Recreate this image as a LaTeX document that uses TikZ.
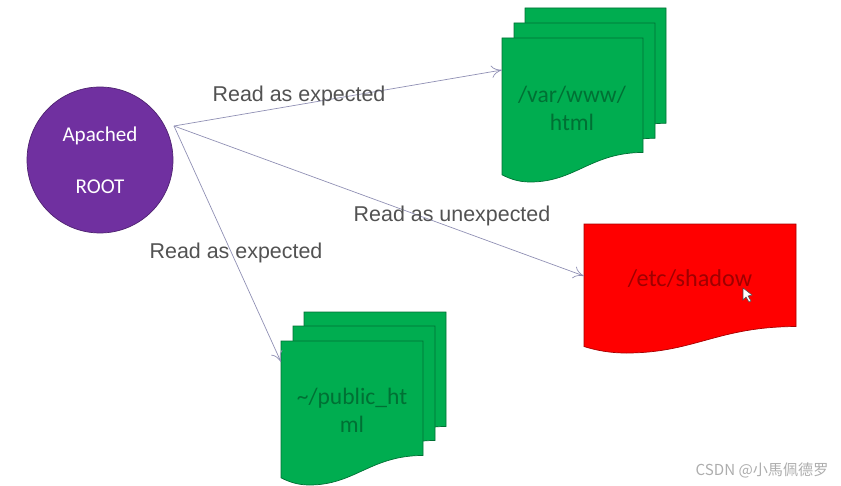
\documentclass[tikz,border=0pt]{standalone}
\usepackage{fontspec}
\setmainfont{Carlito}
\newfontfamily\labelfont{Liberation Sans}
\newfontfamily\cjkfont{Noto Sans CJK SC}
\definecolor{pagegreen}{HTML}{00AD50}
\definecolor{pagered}{HTML}{FF0000}
\definecolor{rootpurple}{HTML}{7030A0}
\definecolor{arrowgray}{HTML}{9090B4}
\tikzstyle{process}=[circle, draw=rootpurple!70!black, fill=rootpurple, minimum size=2.92cm, text=white, align=center, font=\fontsize{12}{14}\selectfont, inner sep=0pt]
\tikzstyle{page text}=[align=center, font=\fontsize{13.4}{16}\selectfont, inner sep=0pt]
\tikzstyle{edge label}=[font=\labelfont\fontsize{12.2}{15}\selectfont, text=black!68, inner sep=0pt]
\tikzstyle{access}=[->, draw=arrowgray, thin, >={To[open,length=6pt,width=7pt]}]
\usetikzlibrary{arrows.meta}
\newcommand{\wavepage}[5]{%
  \begin{scope}[shift={(#1,#2)}, xscale=#3, yscale=#4]
    \filldraw[draw=#5!65!black, fill=#5, line width=0.4pt] (0,0) -- (1,0) -- (1,0.795)
      .. controls (0.63,0.795) and (0.52,1) .. (0.2,1)
      .. controls (0.12,1) and (0.06,0.98) .. (0,0.95) -- cycle;
  \end{scope}}
\begin{document}
\begin{tikzpicture}[x=0.02cm, y=-0.02cm]
      \useasboundingbox (0,0) rectangle (841,486);

      \wavepage{525}{8}{141}{145}{pagegreen}
      \wavepage{514}{23}{141}{145}{pagegreen}
      \wavepage{502}{38}{141}{144}{pagegreen}

      \wavepage{304}{312}{142}{144}{pagegreen}
      \wavepage{293}{326}{142}{144}{pagegreen}
      \wavepage{281}{341}{142}{144}{pagegreen}

      \wavepage{584}{224}{212}{129}{pagered}

      \node[process] (root) at (100, 160) {Apached\\[15.5pt]ROOT};
      \node[page text, text=black!35!pagegreen] (www) at (572, 108) {/var/www/\\[0pt]html};
      \node[page text, text=black!35!pagegreen] (public) at (352, 410) {\textasciitilde/public\_ht\\[0pt]ml};
      \node[page text, text=black!38!pagered, font=\fontsize{13.8}{16}\selectfont] (shadow) at (690, 279) {/etc/shadow};

      \coordinate (out_root) at (174, 126);
      \coordinate (in_www) at (502, 70);
      \coordinate (in_shadow) at (584, 276);
      \coordinate (in_public) at (281, 362);

      \draw[access] (out_root) -- (in_www);
      \draw[access] (out_root) -- (in_shadow);
      \draw[access] (out_root) -- (in_public);

      \node[edge label] (read_www) at (299, 96) {Read as expected};
      \node[edge label] (read_shadow) at (452, 216) {Read as unexpected};
      \node[edge label] (read_public) at (236, 253) {Read as expected};

      \filldraw[draw=black!70, fill=white, line width=0.3pt] (743, 288) -- (743, 300) -- (746, 297) -- (749, 302) -- (751, 301) -- (748, 296) -- (752, 295) -- cycle;

      \node[font=\cjkfont\fontsize{8.6}{10}\selectfont, text=black!32, inner sep=0pt] (mark) at (762, 470) {CSDN @小馬佩德罗};
    \end{tikzpicture}
\end{document}
